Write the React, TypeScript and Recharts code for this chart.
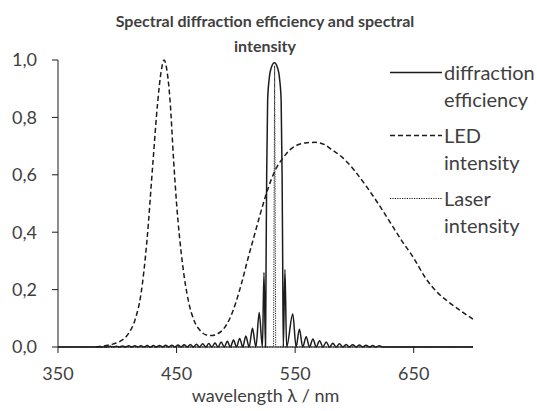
import React from 'react';
import { LineChart, Line, XAxis, YAxis, Legend } from 'recharts';

// wavelength (nm), diffraction efficiency
const diffractionEfficiency: [number, number][] = [
  [350, 0], [391.4, 0], [394.0, 0.003], [396.6, 0], [399.2, 0.003], [401.8, 0], [404.4, 0.0035],
  [407.0, 0], [409.6, 0.004], [412.2, 0], [414.8, 0.004], [417.4, 0], [420.0, 0.0045], [422.6, 0],
  [425.2, 0.005], [427.8, 0], [430.4, 0.005], [433.0, 0], [435.6, 0.0055], [438.2, 0], [440.8, 0.006],
  [443.4, 0], [446.0, 0.0065], [448.6, 0], [451.2, 0.007], [453.8, 0], [456.4, 0.008], [459.0, 0],
  [461.6, 0.009], [464.2, 0], [466.8, 0.01], [469.4, 0], [472.0, 0.011], [474.6, 0], [477.2, 0.012],
  [479.8, 0], [482.4, 0.014], [485.0, 0], [487.6, 0.017], [490.2, 0], [492.8, 0.02], [495.4, 0],
  [498.0, 0.024], [500.6, 0], [503.2, 0.03], [505.8, 0], [508.4, 0.038], [511.2, 0], [514.0, 0.065],
  [516.9, 0], [519.7, 0.12], [522.4, 0], [523.7, 0.26], [525.0, 0],
  [525.5, 0.3], [526.0, 0.6], [526.8, 0.86], [528.0, 0.93], [530.0, 0.975], [532.5, 0.99],
  [535.0, 0.975], [537.0, 0.93], [538.2, 0.86], [539.0, 0.6], [539.5, 0.3], [540.0, 0],
  [541.4, 0.27], [542.8, 0], [548.0, 0.115], [550.8, 0], [553.6, 0.062], [556.4, 0], [559.3, 0.036],
  [562.1, 0], [565.0, 0.028], [567.8, 0], [570.6, 0.022], [573.4, 0], [576.2, 0.017], [579.0, 0],
  [581.8, 0.013], [584.6, 0], [587.4, 0.011], [590.2, 0], [593.0, 0.009], [595.8, 0], [598.6, 0.008],
  [601.4, 0], [604.2, 0.007], [607.0, 0], [609.8, 0.006], [612.6, 0], [615.4, 0.005], [618.2, 0],
  [621.0, 0.004], [623.8, 0], [700, 0],
];

// wavelength (nm), LED intensity
const ledIntensity: [number, number][] = [
  [382, 0], [387, 0.003], [392, 0.006], [397, 0.011], [402, 0.019], [406, 0.03], [410, 0.05],
  [415, 0.095], [420, 0.185], [425, 0.37], [430, 0.64], [434, 0.85], [437, 0.96], [439.5, 1.0],
  [442, 0.96], [444.5, 0.86], [447.5, 0.65], [450, 0.5], [455, 0.29], [460, 0.16], [465, 0.09],
  [470, 0.057], [475, 0.042], [480, 0.04], [485, 0.047], [490, 0.065], [495, 0.1], [500, 0.155],
  [505, 0.225], [510, 0.305], [515, 0.38], [520, 0.455], [525, 0.525], [530, 0.585], [535, 0.63],
  [540, 0.66], [545, 0.685], [550, 0.7], [555, 0.708], [560, 0.712], [567, 0.713], [575, 0.705],
  [580, 0.69], [590, 0.66], [600, 0.615], [610, 0.56], [620, 0.5], [630, 0.435], [640, 0.37],
  [650, 0.31], [660, 0.24], [670, 0.19], [680, 0.155], [690, 0.125], [700, 0.097],
];

// wavelength (nm), laser intensity
const laserIntensity: [number, number][] = [
  [350, 0], [531.8, 0], [532.7, 0.98], [533.6, 0], [700, 0],
];

const xTicks = [350, 450, 550, 650];
const yTicks = [0, 0.2, 0.4, 0.6, 0.8, 1.0];

const legendLabels = [
  ['diffraction', 'efficiency'],
  ['LED', 'intensity'],
  ['Laser', 'intensity'],
];

const toPoints = (arr: [number, number][]) => arr.map(([x, y]) => ({ x, y }));

const FONT = 'Lato, "DejaVu Sans", sans-serif';
const TEXT = '#3f3f3f';
const INK = '#1c1c1c';

const lineStyles = [
  { dash: undefined as string | undefined, width: 1.5 },
  { dash: '5 3', width: 1.5 },
  { dash: '1.2 1.2', width: 1 },
];

const renderLegend = () => (
  <div style={{ fontFamily: FONT, fontSize: 20, color: TEXT }}>
    {legendLabels.map((lab, i) => (
      <div key={i} style={{ display: 'flex', alignItems: 'flex-start', marginBottom: 9 }}>
        <svg width={56} height={27} style={{ flex: 'none' }}>
          <line
            x1={2}
            x2={54}
            y1={13.5}
            y2={13.5}
            stroke={INK}
            strokeWidth={lineStyles[i].width}
            strokeDasharray={lineStyles[i].dash}
          />
        </svg>
        <div style={{ lineHeight: '27px', whiteSpace: 'nowrap' }}>
          {lab[0]}
          <br />
          {lab[1]}
        </div>
      </div>
    ))}
  </div>
);

export default function App() {
  return (
    <div style={{ position: 'absolute', left: 0, top: 0, width: 537, height: 411, background: '#fff' }}>
      <div
        style={{
          position: 'absolute',
          left: 0,
          top: 8,
          width: 530,
          textAlign: 'center',
          fontFamily: FONT,
          fontWeight: 'bold',
          fontSize: 16,
          lineHeight: '25px',
          color: TEXT,
        }}
      >
        Spectral diffraction efficiency and spectral
        <br />
        intensity
      </div>
      <LineChart width={537} height={411} margin={{ top: 60, right: 64, bottom: 4, left: 8 }}>
        <XAxis
          type="number"
          dataKey="x"
          domain={[350, 700]}
          ticks={xTicks}
          allowDataOverflow
          stroke={INK}
          tickSize={6}
          tickMargin={14}
          height={60}
          tick={{ fill: TEXT, fontSize: 18, fontFamily: FONT }}
          label={{
            value: 'wavelength λ / nm',
            position: 'insideBottom',
            offset: 5,
            style: { fill: TEXT, fontSize: 18, fontFamily: FONT },
          }}
        />
        <YAxis
          type="number"
          domain={[0, 1]}
          ticks={yTicks}
          width={50}
          stroke={INK}
          tickSize={6}
          tickMargin={15}
          tick={{ fill: TEXT, fontSize: 18, fontFamily: FONT }}
          tickFormatter={(v: number) => v.toFixed(1).replace('.', ',')}
        />
        <Legend
          layout="vertical"
          align="center"
          verticalAlign="middle"
          content={renderLegend}
          wrapperStyle={{ left: 388, top: 59, width: 150, height: 190 }}
        />
        <Line
          data={toPoints(ledIntensity)}
          dataKey="y"
          name="LED intensity"
          type="monotone"
          stroke={INK}
          strokeWidth={1.5}
          strokeDasharray="5 3"
          dot={false}
          isAnimationActive={false}
        />
        <Line
          data={toPoints(laserIntensity)}
          dataKey="y"
          name="Laser intensity"
          type="linear"
          stroke={INK}
          strokeWidth={1}
          strokeDasharray="1.2 1.2"
          dot={false}
          isAnimationActive={false}
        />
        <Line
          data={toPoints(diffractionEfficiency)}
          dataKey="y"
          name="diffraction efficiency"
          type="monotone"
          stroke={INK}
          strokeWidth={1.5}
          dot={false}
          isAnimationActive={false}
        />
      </LineChart>
    </div>
  );
}
